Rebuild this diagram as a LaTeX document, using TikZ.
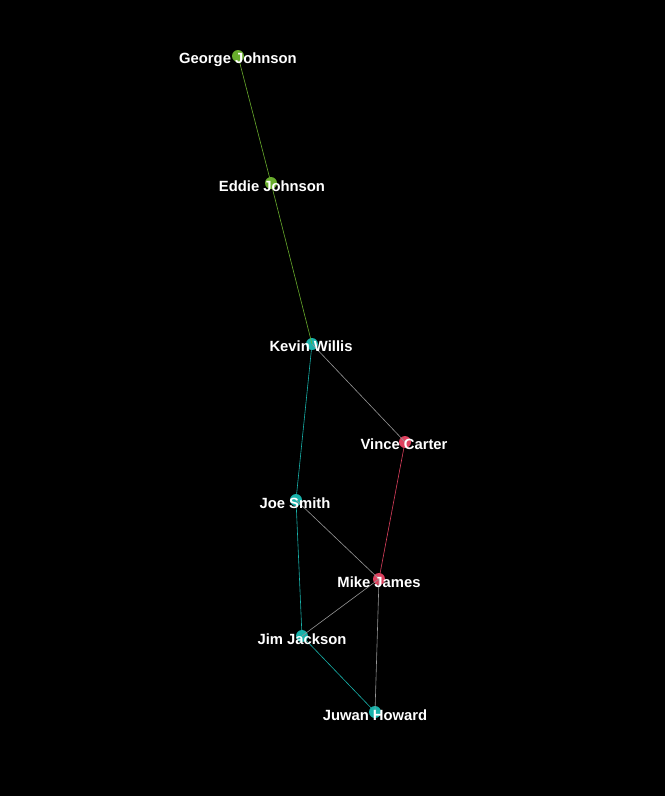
\documentclass[tikz,border=0pt]{standalone}
\usepackage{fontspec}
\setmainfont{Liberation Sans}
\definecolor{grp}{RGB}{104,172,44}
\definecolor{cyn}{RGB}{24,178,170}
\definecolor{rdp}{RGB}{222,64,94}
\definecolor{edg}{RGB}{150,150,150}
\begin{document}
\begin{tikzpicture}[x=1pt,y=-1pt,
    dot/.style={circle,inner sep=0pt,minimum size=12pt,fill=#1},
    lbl/.style={text=white,font=\bfseries\fontsize{14.8}{15}\selectfont,inner sep=0pt},
    lnk/.style={line width=0.6pt,draw=#1}]
        \fill[black] (0,0) rectangle (665,796);
        \node[dot=grp] (GJ) at (238,56) {};
        \node[dot=grp] (EJ) at (271,183) {};
        \node[dot=cyn] (KW) at (312,344) {};
        \node[dot=rdp] (VC) at (405,442) {};
        \node[dot=cyn] (JS) at (296,500) {};
        \node[dot=rdp] (MJ) at (379,579) {};
        \node[dot=cyn] (JJ) at (302,636) {};
        \node[dot=cyn] (JH) at (375,712) {};
        
        \draw[lnk=grp] (GJ.center) -- (EJ.center) -- (KW.center);
        \draw[lnk=edg] (KW.center) -- (VC.center);
        \draw[lnk=cyn] (KW.center) -- (JS.center) -- (JJ.center) -- (JH.center);
        \draw[lnk=rdp] (VC.center) -- (MJ.center);
        \draw[lnk=edg] (JS.center) -- (MJ.center) -- (JJ.center);
        \draw[lnk=edg] (MJ.center) -- (JH.center);
        
        \node[lbl] (tGJ) at (238,60) {George Johnson};
        \node[lbl] (tEJ) at (272,186) {Eddie Johnson};
        \node[lbl] (tKW) at (311,346) {Kevin Willis};
        \node[lbl] (tVC) at (404,444) {Vince Carter};
        \node[lbl] (tJS) at (295,503) {Joe Smith};
        \node[lbl] (tMJ) at (379,582) {Mike James};
        \node[lbl] (tJJ) at (302,639) {Jim Jackson};
        \node[lbl] (tJH) at (375,715) {Juwan Howard};
      \end{tikzpicture}
\end{document}
